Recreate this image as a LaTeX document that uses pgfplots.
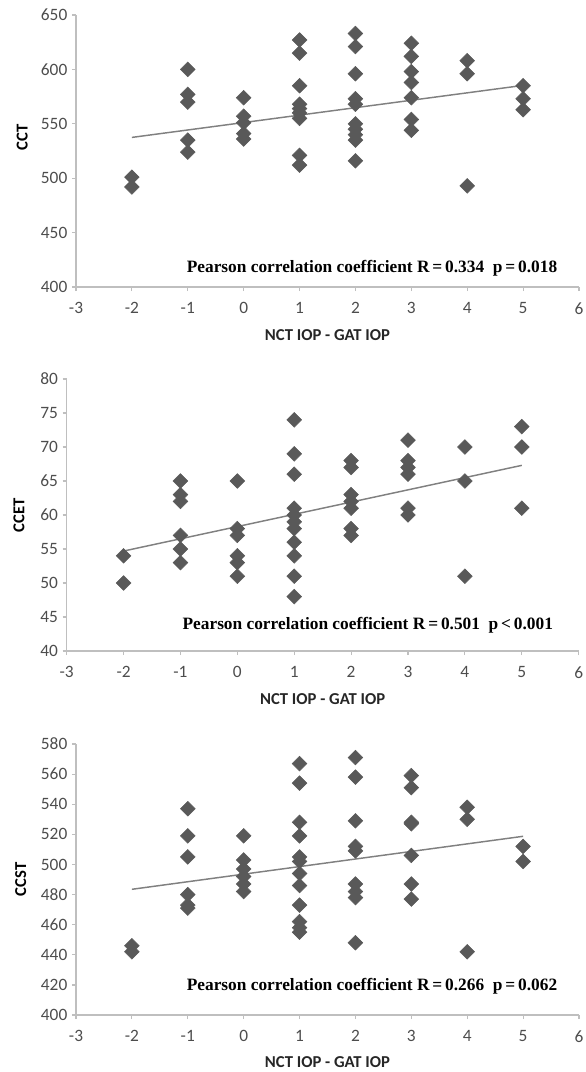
\documentclass[border=0pt]{standalone}
\usepackage{pgfplots}
\pgfplotsset{compat=1.18}
\usepackage{fontspec}
\setmainfont{Carlito}
\newfontfamily\tnr{Liberation Serif}
\definecolor{axgray}{HTML}{BFBFBF}
\definecolor{tickgray}{HTML}{4D4D4D}
\definecolor{mk}{HTML}{595959}
\definecolor{trend}{HTML}{808080}
\newcommand\ticksz{\fontsize{13pt}{15pt}\selectfont}
\newcommand\labsz{\fontsize{12.5pt}{15pt}\selectfont\bfseries}
\newcommand\annsz{\fontsize{13pt}{15pt}\selectfont\tnr\bfseries}
\pgfplotsset{
  myax/.style={
    scale only axis, clip=false,
    axis lines=left, axis line style={-, draw=axgray, line width=1.1pt},
    xmin=-3, xmax=6, xtick={-3,...,6},
    tick align=outside, major tick length=3pt,
    tick style={draw=axgray, line width=0.9pt},
    /pgf/number format/assume math mode=true,
    ticklabel style={font=\ticksz, text=tickgray},
    xticklabel style={yshift=-5pt},
    xlabel={NCT IOP - GAT IOP},
    xlabel style={font=\labsz, text=black!85, at={(axis description cs:0.5,-0.175)}, anchor=center},
  },
  pts/.style={only marks, mark=square*, mark size=3.9pt,
    mark options={rotate=45, fill=mk, draw=mk}},
  trl/.style={no marks, draw=trend, line width=1.1pt},
}
\begin{document}
\begin{tikzpicture}
\useasboundingbox (0,0) rectangle (439.5pt,-804pt);
% ---------- CCT ----------
\begin{axis}[myax, at={(57pt,-215.25pt)}, anchor=south west,
  width=377.25pt, height=204pt,
  ymin=400, ymax=650, ytick={400,450,...,650},
  ylabel={CCT},
  ylabel style={font=\labsz, text=black, at={(axis description cs:-0.107,0.55)}, anchor=center}]
\addplot[pts] coordinates {
(-2,501) (-2,492)
(-1,600) (-1,577) (-1,570) (-1,535) (-1,524)
(0,574) (0,557) (0,551) (0,541) (0,536)
(1,627) (1,615) (1,585) (1,568) (1,564) (1,560) (1,555) (1,521) (1,512)
(2,633) (2,621) (2,596) (2,573) (2,568) (2,550) (2,545) (2,540) (2,535) (2,516)
(3,624) (3,612) (3,598) (3,588) (3,574) (3,554) (3,544)
(4,608) (4,596) (4,493)
(5,585) (5,573) (5,563)
};
\addplot[trl] coordinates {(-2,537.5) (5,585.3)};
\node[anchor=east, font=\annsz] at (rel axis cs:0.966,0.07)
  {Pearson correlation coefficient R\,=\,0.334\ \ p\,=\,0.018};
\end{axis}
% ---------- CCET ----------
\begin{axis}[myax, at={(50pt,-488.25pt)}, anchor=south west,
  width=384pt, height=204pt,
  ymin=40, ymax=80, ytick={40,45,...,80},
  ylabel={CCET},
  ylabel style={font=\labsz, text=black, at={(axis description cs:-0.093,0.5)}, anchor=center}]
\addplot[pts] coordinates {
(-2,54) (-2,50)
(-1,65) (-1,63) (-1,62) (-1,57) (-1,55) (-1,53)
(0,65) (0,58) (0,57) (0,54) (0,53) (0,51)
(1,74) (1,69) (1,66) (1,61) (1,60) (1,59) (1,58) (1,56) (1,54) (1,51) (1,48)
(2,68) (2,67) (2,63) (2,62) (2,61) (2,58) (2,57)
(3,71) (3,68) (3,67) (3,66) (3,61) (3,60)
(4,70) (4,65) (4,51)
(5,73) (5,70) (5,61)
};
\addplot[trl] coordinates {(-2,54.7) (5,67.3)};
\node[anchor=east, font=\annsz] at (rel axis cs:0.959,0.096)
  {Pearson correlation coefficient R\,=\,0.501\ \ p\,<\,0.001};
\end{axis}
% ---------- CCST ----------
\begin{axis}[myax, at={(57pt,-761.25pt)}, anchor=south west,
  width=377.25pt, height=203.25pt,
  ymin=400, ymax=580, ytick={400,420,...,580},
  ylabel={CCST},
  ylabel style={font=\labsz, text=black, at={(axis description cs:-0.11,0.5)}, anchor=center}]
\addplot[pts] coordinates {
(-2,446) (-2,442)
(-1,537) (-1,519) (-1,505) (-1,480) (-1,473) (-1,471)
(0,519) (0,503) (0,497) (0,492) (0,487) (0,482)
(1,567) (1,554) (1,528) (1,519) (1,505) (1,502) (1,494) (1,486) (1,473) (1,462) (1,458) (1,455)
(2,571) (2,558) (2,529) (2,512) (2,509) (2,487) (2,482) (2,478) (2,448)
(3,559) (3,551) (3,528) (3,527) (3,506) (3,487) (3,477)
(4,538) (4,530) (4,442)
(5,512) (5,502)
};
\addplot[trl] coordinates {(-2,483.5) (5,518.7)};
\node[anchor=east, font=\annsz] at (rel axis cs:0.966,0.107)
  {Pearson correlation coefficient R\,=\,0.266\ \ p\,=\,0.062};
\end{axis}
\end{tikzpicture}
\end{document}
